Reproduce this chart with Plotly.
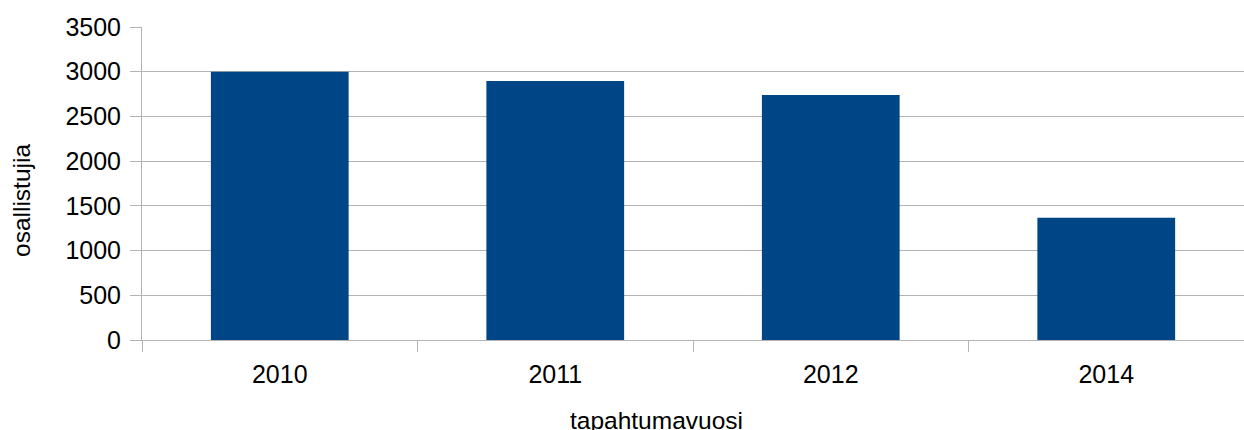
import plotly.graph_objects as go

years = ["2010", "2011", "2012", "2014"]
participants = [3000, 2895, 2740, 1366]
y_ticks = [0, 500, 1000, 1500, 2000, 2500, 3000, 3500]

FONT = "Liberation Sans, Arial, sans-serif"
GRID = "#b3b3b3"
L, R, T, B = 142, 0, 27, 90
W, H = 1244, 430
pw, ph = W - L - R, H - T - B

fig = go.Figure(go.Bar(x=years, y=participants, marker_color="#004586",
                       marker_line_width=0, width=0.5))

fig.update_layout(
    width=W, height=H,
    margin=dict(l=L, r=R, t=T, b=B, pad=0),
    paper_bgcolor="white", plot_bgcolor="white",
    font=dict(family=FONT, size=24, color="#000000"),
    showlegend=False,
    bargap=0.5,
)
fig.update_xaxes(
    type="category", tickson="boundaries", ticks="outside", ticklen=11,
    tickcolor=GRID, tickwidth=1, showgrid=False, showline=True, linecolor=GRID,
    linewidth=1, tickfont=dict(size=25, family=FONT), ticklabelstandoff=12,
)
fig.update_yaxes(
    range=[0, 3500], tickvals=y_ticks, ticks="outside", ticklen=11,
    tickcolor=GRID, showgrid=True, gridcolor=GRID, gridwidth=1,
    showline=True, linecolor=GRID, linewidth=1, zeroline=False,
    tickfont=dict(size=25, family=FONT), ticklabelstandoff=4,
)
fig.add_annotation(text="osallistujia", xref="paper", yref="paper",
                   x=(21 - L) / pw, y=(T + ph - 201) / ph, textangle=-90,
                   showarrow=False, xanchor="center", yanchor="middle",
                   font=dict(size=24.5, family=FONT))
fig.add_annotation(text="tapahtumavuosi", xref="paper", yref="paper",
                   x=(656.5 - L) / pw, y=(T + ph - 420) / ph,
                   showarrow=False, xanchor="center", yanchor="middle",
                   font=dict(size=24.5, family=FONT))

fig.write_html("out.html")
